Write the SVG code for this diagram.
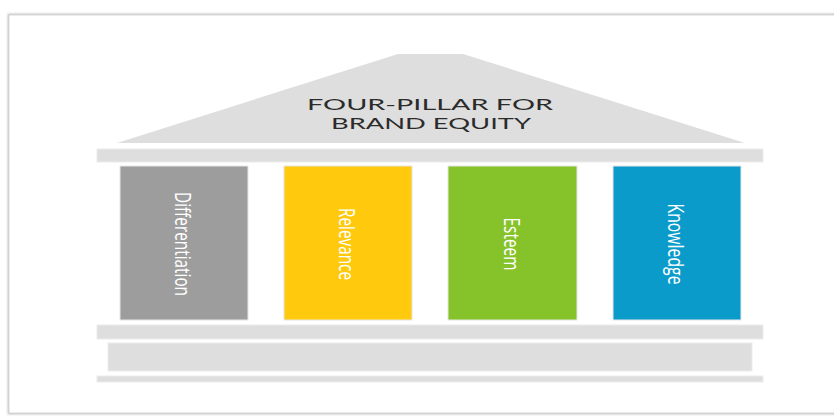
<svg xmlns="http://www.w3.org/2000/svg" width="834" height="417" viewBox="0 0 834 417">
  <defs>
    <filter id="frameShadow" x="-5%" y="-5%" width="110%" height="110%">
      <feGaussianBlur stdDeviation="1.2"/>
    </filter>
    <style>
      .stone { fill: #dedede; stroke: #ececec; stroke-width: 1; }
      .pillar { stroke: #e6e6e6; stroke-width: 1; }
      .title { font-family: Lato, "Open Sans", "Liberation Sans", sans-serif; font-size: 16px; fill: #2b2b2b; text-anchor: middle; }
      .label { font-family: "Open Sans", "Liberation Sans", sans-serif; font-size: 14px; fill: #ffffff; text-anchor: middle; }
    </style>
  </defs>

  <rect width="834" height="417" fill="#ffffff"/>

  <!-- card frame with a soft shadow -->
  <rect x="9" y="15" width="840" height="398" fill="none" stroke="#bdbdbd" stroke-width="2.5" filter="url(#frameShadow)"/>
  <rect x="9" y="15" width="840" height="398" fill="#ffffff" stroke="#d0d0d0" stroke-width="0.8"/>

  <!-- roof with title -->
  <g id="roof">
    <polygon points="398,54 463,54 745,143 117,143" fill="#dedede"/>
    <text class="title" x="430" y="109.5" textLength="246" lengthAdjust="spacingAndGlyphs">FOUR-PILLAR FOR</text>
    <text class="title" x="431" y="129" textLength="200" lengthAdjust="spacingAndGlyphs">BRAND EQUITY</text>
  </g>

  <!-- beam under roof -->
  <g id="top-beam">
    <rect class="stone" x="97" y="149" width="666" height="13"/>
  </g>

  <!-- pillars; labels run top to bottom, widened across the pillar -->
  <g id="pillar-differentiation">
    <rect class="pillar" x="120" y="166" width="128" height="154" fill="#9d9d9d"/>
    <text class="label" transform="translate(175,244) rotate(90) scale(1,1.55)" textLength="104" lengthAdjust="spacingAndGlyphs">Differentiation</text>
  </g>
  <g id="pillar-relevance">
    <rect class="pillar" x="284" y="166" width="128" height="154" fill="#ffc90e"/>
    <text class="label" transform="translate(339,244) rotate(90) scale(1,1.55)" textLength="72" lengthAdjust="spacingAndGlyphs">Relevance</text>
  </g>
  <g id="pillar-esteem">
    <rect class="pillar" x="448" y="166" width="129" height="154" fill="#86c229"/>
    <text class="label" transform="translate(503.5,244) rotate(90) scale(1,1.55)" textLength="53" lengthAdjust="spacingAndGlyphs">Esteem</text>
  </g>
  <g id="pillar-knowledge">
    <rect class="pillar" x="613" y="166" width="128" height="154" fill="#0a9bcb"/>
    <text class="label" transform="translate(668,244) rotate(90) scale(1,1.55)" textLength="81" lengthAdjust="spacingAndGlyphs">Knowledge</text>
  </g>

  <!-- base steps -->
  <g id="base">
    <rect class="stone" x="97" y="325" width="666" height="14"/>
    <rect class="stone" x="108" y="343" width="644" height="28"/>
    <rect class="stone" x="97" y="376" width="666" height="6"/>
  </g>

  <g id="connectors"/>
</svg>
